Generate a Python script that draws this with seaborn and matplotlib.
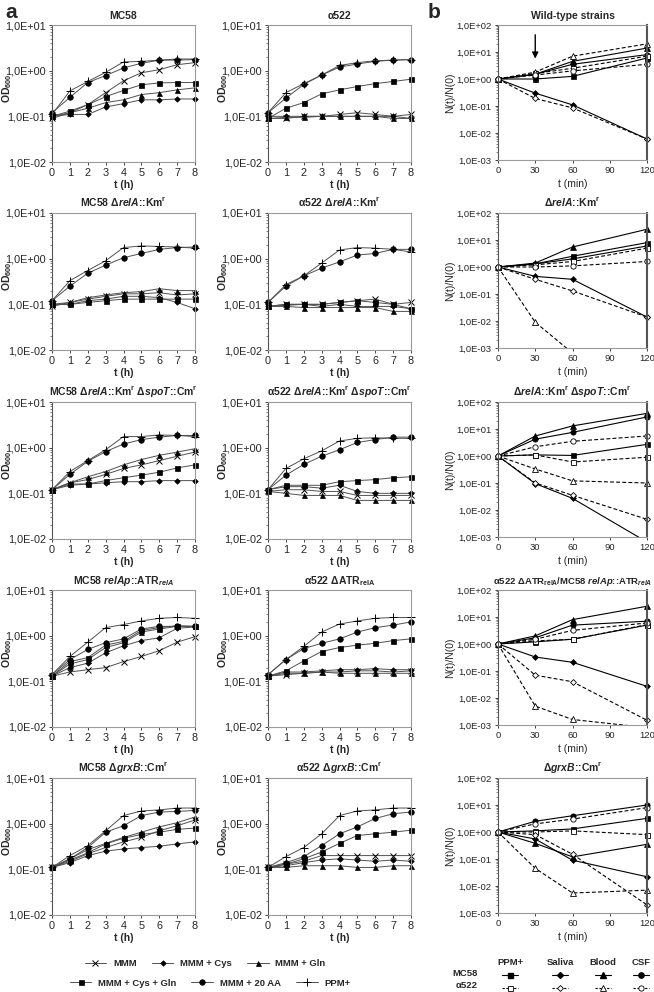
import numpy as np
import matplotlib
matplotlib.use("Agg")
import matplotlib.pyplot as plt
from matplotlib.lines import Line2D
from matplotlib.ticker import FixedLocator, FuncFormatter, LogLocator, NullFormatter
import seaborn as sns

hours = [0, 1, 2, 3, 4, 5, 6, 7, 8]
minutes = [0, 30, 60, 120]

media = ["MMM", "MMM + Cys", "MMM + Gln", "MMM + Cys + Gln", "MMM + 20 AA", "PPM+"]
conditions = ["PPM+", "Saliva", "Blood", "CSF"]

# panel a: OD600 per medium (order of `media`)
od_mc58 = [
    [0.09, 0.12, 0.18, 0.33, 0.60, 0.90, 1.05, 1.35, 1.50],
    [0.10, 0.11, 0.11, 0.16, 0.19, 0.23, 0.23, 0.24, 0.24],
    [0.10, 0.12, 0.15, 0.20, 0.23, 0.30, 0.33, 0.38, 0.42],
    [0.10, 0.13, 0.18, 0.27, 0.37, 0.49, 0.54, 0.55, 0.55],
    [0.12, 0.26, 0.55, 0.78, 1.15, 1.45, 1.70, 1.70, 1.75],
    [0.11, 0.36, 0.58, 0.92, 1.55, 1.60, 1.70, 1.80, 1.80],
]
od_a522 = [
    [0.09, 0.09, 0.10, 0.10, 0.11, 0.12, 0.11, 0.10, 0.11],
    [0.10, 0.10, 0.10, 0.10, 0.10, 0.10, 0.10, 0.10, 0.09],
    [0.09, 0.095, 0.095, 0.10, 0.10, 0.10, 0.10, 0.09, 0.09],
    [0.09, 0.15, 0.20, 0.31, 0.38, 0.45, 0.52, 0.58, 0.65],
    [0.12, 0.25, 0.50, 0.80, 1.20, 1.40, 1.60, 1.70, 1.75],
    [0.12, 0.33, 0.52, 0.80, 1.30, 1.50, 1.65, 1.70, 1.75],
]
od_mc58_rela = [
    [0.09, 0.11, 0.13, 0.15, 0.17, 0.17, 0.18, 0.16, 0.17],
    [0.10, 0.10, 0.12, 0.13, 0.15, 0.15, 0.14, 0.11, 0.08],
    [0.10, 0.11, 0.14, 0.16, 0.18, 0.19, 0.22, 0.20, 0.20],
    [0.10, 0.10, 0.11, 0.12, 0.13, 0.13, 0.13, 0.13, 0.13],
    [0.12, 0.25, 0.48, 0.72, 1.05, 1.30, 1.60, 1.75, 1.80],
    [0.12, 0.33, 0.55, 0.90, 1.75, 1.90, 1.85, 1.80, 1.70],
]
od_a522_rela = [
    [0.09, 0.10, 0.10, 0.10, 0.11, 0.12, 0.13, 0.10, 0.11],
    [0.09, 0.095, 0.10, 0.09, 0.10, 0.09, 0.09, 0.09, 0.08],
    [0.09, 0.09, 0.085, 0.085, 0.085, 0.085, 0.085, 0.07, 0.07],
    [0.09, 0.10, 0.10, 0.10, 0.11, 0.12, 0.11, 0.10, 0.08],
    [0.11, 0.25, 0.42, 0.62, 0.85, 1.20, 1.30, 1.60, 1.60],
    [0.11, 0.27, 0.42, 0.80, 1.55, 1.75, 1.70, 1.60, 1.40],
]
od_mc58_rela_spot = [
    [0.12, 0.17, 0.20, 0.26, 0.35, 0.42, 0.52, 0.65, 0.80],
    [0.12, 0.15, 0.16, 0.17, 0.18, 0.18, 0.19, 0.19, 0.19],
    [0.12, 0.17, 0.23, 0.30, 0.42, 0.55, 0.68, 0.80, 0.95],
    [0.12, 0.16, 0.16, 0.19, 0.22, 0.25, 0.29, 0.36, 0.42],
    [0.12, 0.26, 0.50, 0.82, 1.20, 1.50, 1.70, 1.85, 1.85],
    [0.12, 0.30, 0.52, 0.90, 1.75, 1.75, 1.90, 1.85, 1.75],
]
od_a522_rela_spot = [
    [0.11, 0.12, 0.12, 0.11, 0.11, 0.09, 0.09, 0.09, 0.09],
    [0.12, 0.14, 0.14, 0.13, 0.15, 0.11, 0.10, 0.10, 0.10],
    [0.11, 0.10, 0.09, 0.09, 0.09, 0.07, 0.07, 0.07, 0.07],
    [0.12, 0.15, 0.15, 0.15, 0.18, 0.19, 0.20, 0.22, 0.23],
    [0.12, 0.25, 0.43, 0.65, 0.90, 1.30, 1.50, 1.70, 1.70],
    [0.12, 0.35, 0.57, 0.85, 1.40, 1.60, 1.65, 1.60, 1.60],
]
od_mc58_atr = [
    [0.13, 0.16, 0.18, 0.20, 0.27, 0.35, 0.47, 0.72, 0.95],
    [0.13, 0.20, 0.25, 0.42, 0.60, 0.78, 0.90, 1.45, 1.55],
    [0.13, 0.24, 0.30, 0.55, 0.70, 1.20, 1.40, 1.60, 1.60],
    [0.13, 0.27, 0.33, 0.62, 0.75, 1.30, 1.50, 1.65, 1.60],
    [0.14, 0.30, 0.50, 0.70, 0.85, 1.40, 1.60, 1.60, 1.60],
    [0.14, 0.35, 0.72, 1.50, 1.75, 2.10, 2.40, 2.50, 2.40],
]
od_a522_atr = [
    [0.13, 0.14, 0.15, 0.16, 0.16, 0.17, 0.17, 0.16, 0.17],
    [0.13, 0.16, 0.16, 0.17, 0.18, 0.18, 0.19, 0.18, 0.18],
    [0.13, 0.15, 0.15, 0.16, 0.15, 0.15, 0.15, 0.15, 0.15],
    [0.13, 0.17, 0.28, 0.45, 0.55, 0.62, 0.68, 0.78, 0.85],
    [0.14, 0.30, 0.52, 0.68, 0.85, 1.20, 1.50, 1.70, 2.00],
    [0.14, 0.30, 0.58, 1.20, 1.80, 2.10, 2.40, 2.50, 2.50],
]
od_mc58_grxb = [
    [0.11, 0.15, 0.22, 0.30, 0.40, 0.50, 0.70, 0.90, 1.20],
    [0.11, 0.14, 0.20, 0.25, 0.28, 0.30, 0.32, 0.36, 0.40],
    [0.11, 0.17, 0.27, 0.37, 0.50, 0.65, 0.85, 1.05, 1.40],
    [0.11, 0.16, 0.23, 0.36, 0.48, 0.58, 0.65, 0.75, 0.80],
    [0.11, 0.17, 0.30, 0.65, 0.90, 1.50, 1.80, 1.85, 1.95],
    [0.11, 0.20, 0.33, 0.70, 1.50, 1.90, 2.00, 2.20, 2.20],
]
od_a522_grxb = [
    [0.11, 0.13, 0.15, 0.20, 0.20, 0.20, 0.20, 0.20, 0.20],
    [0.11, 0.12, 0.14, 0.16, 0.17, 0.16, 0.15, 0.16, 0.15],
    [0.11, 0.11, 0.12, 0.12, 0.12, 0.11, 0.11, 0.12, 0.12],
    [0.11, 0.13, 0.17, 0.24, 0.37, 0.55, 0.60, 0.65, 0.72],
    [0.11, 0.14, 0.19, 0.33, 0.60, 0.85, 1.30, 1.65, 1.80],
    [0.11, 0.19, 0.30, 0.60, 1.50, 1.90, 2.00, 2.20, 2.20],
]

# panel b: N(t)/N(0) per condition (order of `conditions`)
surv_wt_mc58 = [[1, 1.0, 1.25, 6], [1, 0.30, 0.11, 0.006], [1, 1.5, 4.5, 14], [1, 1.5, 3.5, 8]]
surv_wt_a522 = [[1, 1.6, 2.5, 7], [1, 0.19, 0.085, 0.006], [1, 1.8, 7, 20], [1, 1.4, 2.0, 3.5]]
surv_rela_mc58 = [[1, 1.3, 2.5, 8], [1, 0.45, 0.35, 0.014], [1, 1.4, 5.5, 25], [1, 1.3, 2.0, 6]]
surv_rela_a522 = [[1, 1.2, 1.6, 5], [1, 0.35, 0.13, 0.014], [1, 0.009, 0.00065, np.nan], [1, 1.0, 1.1, 1.6]]
surv_spot_mc58 = [[1, 1.1, 1.05, 2.7], [1, 0.095, 0.027, 0.00065], [1, 5.5, 13, 38], [1, 4.2, 7.5, 28]]
surv_spot_a522 = [[1, 1.1, 0.6, 0.9], [1, 0.10, 0.035, 0.0045], [1, 0.33, 0.12, 0.10], [1, 2.2, 3.5, 5.5]]
surv_atr_mc58 = [[1, 1.2, 1.5, 5], [1, 0.33, 0.21, 0.027], [1, 2.0, 8, 25], [1, 1.7, 5, 7]]
surv_atr_a522 = [[1, 1.3, 1.5, 5.2], [1, 0.07, 0.04, 0.0015], [1, 0.005, 0.0016, 0.0008], [1, 1.5, 3.2, 6]]
surv_grxb_mc58 = [[1, 1.1, 1.3, 3.2], [1, 0.55, 0.09, 0.022], [1, 0.38, 0.12, 0.35], [1, 2.5, 4.0, 10]]
surv_grxb_a522 = [[1, 1.0, 1.1, 0.8], [1, 0.8, 0.15, 0.002], [1, 0.045, 0.0055, 0.007], [1, 2.0, 3.0, 8]]

growth_panels = [
    ("MC58", od_mc58), ("\u03b1522", od_a522),
    ("MC58 \u0394$\\mathit{relA}$::Km$^{\\mathrm{r}}$", od_mc58_rela),
    ("\u03b1522 \u0394$\\mathit{relA}$::Km$^{\\mathrm{r}}$", od_a522_rela),
    ("MC58 \u0394$\\mathit{relA}$::Km$^{\\mathrm{r}}$ \u0394$\\mathit{spoT}$::Cm$^{\\mathrm{r}}$", od_mc58_rela_spot),
    ("\u03b1522 \u0394$\\mathit{relA}$::Km$^{\\mathrm{r}}$ \u0394$\\mathit{spoT}$::Cm$^{\\mathrm{r}}$", od_a522_rela_spot),
    ("MC58 $\\mathit{relAp}$::ATR$_{\\mathit{relA}}$", od_mc58_atr),
    ("\u03b1522 \u0394ATR$_{\\mathrm{relA}}$", od_a522_atr),
    ("MC58 \u0394$\\mathit{grxB}$::Cm$^{\\mathrm{r}}$", od_mc58_grxb),
    ("\u03b1522 \u0394$\\mathit{grxB}$::Cm$^{\\mathrm{r}}$", od_a522_grxb),
]
survival_panels = [
    ("Wild-type strains", surv_wt_mc58, surv_wt_a522),
    ("\u0394$\\mathit{relA}$::Km$^{\\mathrm{r}}$", surv_rela_mc58, surv_rela_a522),
    ("\u0394$\\mathit{relA}$::Km$^{\\mathrm{r}}$ \u0394$\\mathit{spoT}$::Cm$^{\\mathrm{r}}$", surv_spot_mc58, surv_spot_a522),
    ("\u03b1522 \u0394ATR$_{\\mathrm{relA}}$/MC58 $\\mathit{relAp}$::ATR$_{\\mathit{relA}}$", surv_atr_mc58, surv_atr_a522),
    ("\u0394$\\mathit{grxB}$::Cm$^{\\mathrm{r}}$", surv_grxb_mc58, surv_grxb_a522),
]

sns.set_style("ticks")
plt.rcParams["font.family"] = ["Liberation Sans", "DejaVu Sans"]
plt.rcParams["mathtext.fontset"] = "custom"
plt.rcParams["mathtext.rm"] = "Liberation Sans:bold"
plt.rcParams["mathtext.it"] = "Liberation Sans:italic:bold"
plt.rcParams["mathtext.bf"] = "Liberation Sans:bold"

medium_style = {
    "MMM": dict(marker="x", markersize=4.5, markeredgewidth=0.7),
    "MMM + Cys": dict(marker="D", markersize=2.8, markeredgewidth=0.5),
    "MMM + Gln": dict(marker="^", markersize=3.6, markeredgewidth=0.5),
    "MMM + Cys + Gln": dict(marker="s", markersize=3.6, markeredgewidth=0.5),
    "MMM + 20 AA": dict(marker="o", markersize=4.0, markeredgewidth=0.5),
    "PPM+": dict(marker="+", markersize=6.0, markeredgewidth=0.7),
}
cond_marker = {"PPM+": ("s", 3.6), "Saliva": ("D", 3.0), "Blood": ("^", 3.8), "CSF": ("o", 3.8)}
line_grey = "#505050"

W, H = 654, 992
fig = plt.figure(figsize=(W / 100, H / 100), dpi=100)


def px_axes(x0, y0, w, h):
    return fig.add_axes([x0 / W, 1 - (y0 + h) / H, w / W, h / H])


def sci(v, pos):
    return f"{v:.1E}".replace(".", ",")


def style_log_axis(ax, ticks, size):
    ax.set_yscale("log")
    ax.set_ylim(ticks[0], ticks[-1])
    ax.yaxis.set_major_locator(FixedLocator(ticks))
    ax.yaxis.set_major_formatter(FuncFormatter(sci))
    ax.yaxis.set_minor_locator(LogLocator(base=10, subs=np.arange(2, 10)))
    ax.yaxis.set_minor_formatter(NullFormatter())
    ax.tick_params(axis="both", which="major", labelsize=size, length=2.5, width=0.6, pad=2)
    ax.tick_params(axis="y", which="minor", length=1.5, width=0.4)
    for s in ax.spines.values():
        s.set_color("#9a9a9a")
        s.set_linewidth(0.8)
    ax.spines["left"].set_color("#555555")


rows_top = [25, 213, 402, 590, 778]
cols_a = [52, 268]

for i, (title, curves) in enumerate(growth_panels):
    r, c = divmod(i, 2)
    ax = px_axes(cols_a[c], rows_top[r], 143, 137)
    for medium, vals in zip(media, curves):
        sns.lineplot(x=hours, y=vals, ax=ax, color=line_grey, linewidth=0.7,
                     markerfacecolor="k", markeredgecolor="k", clip_on=False,
                     **medium_style[medium])
    style_log_axis(ax, [0.01, 0.1, 1, 10], 7.8)
    ax.set_xlim(0, 8)
    ax.set_xticks(hours)
    ax.set_xlabel("t (h)", fontsize=7.5, fontweight="bold", labelpad=1.5)
    ax.set_ylabel("OD$_{600}$", fontsize=7.5, fontweight="bold")
    ax.yaxis.set_label_coords(-0.265, 0.54)
    ax.set_title(title, fontsize=7.5, fontweight="bold", pad=4)

for r, (title, mc58, a522) in enumerate(survival_panels):
    ax = px_axes(498, rows_top[r], 149, 135)
    for cond, vals in zip(conditions, mc58):
        m, ms = cond_marker[cond]
        v = np.array(vals, dtype=float)
        keep = ~np.isnan(v)
        inside = bool(np.all(v[keep] >= 1e-3))
        sns.lineplot(x=np.array(minutes)[keep], y=v[keep], ax=ax, color="k", linewidth=0.8,
                     marker=m, markersize=ms, markerfacecolor="k", markeredgecolor="k",
                     markeredgewidth=0.5, clip_on=not inside)
    for cond, vals in zip(conditions, a522):
        m, ms = cond_marker[cond]
        v = np.array(vals, dtype=float)
        keep = ~np.isnan(v)
        inside = bool(np.all(v[keep] >= 1e-3))
        sns.lineplot(x=np.array(minutes)[keep], y=v[keep], ax=ax, color="k", linewidth=0.8,
                     linestyle=(0, (3.5, 2)), marker=m, markersize=ms, markerfacecolor="white",
                     markeredgecolor="k", markeredgewidth=0.6, clip_on=not inside)
    style_log_axis(ax, [1e-3, 1e-2, 1e-1, 1, 10, 100], 6.8)
    ax.spines["right"].set_color("#555555")
    ax.spines["right"].set_linewidth(1.5)
    ax.set_xlim(0, 120)
    ax.set_xticks([0, 30, 60, 90, 120])
    ax.set_xlabel("t (min)", fontsize=7.5, labelpad=3)
    ax.set_ylabel("N(t)/N(0)", fontsize=7.5)
    ax.yaxis.set_label_coords(-0.285, 0.5)
    ax.set_title(title, fontsize=6.8 if r == 3 else 7.5, fontweight="bold", pad=4)
    if r == 0:
        ax.annotate("", xy=(30, 4.5), xytext=(30, 55),
                    arrowprops=dict(arrowstyle="-|>", color="k", lw=1.0, mutation_scale=9))

fig.text(5 / W, 1 - 18 / H, "a", fontsize=15, fontweight="bold")
fig.text(428 / W, 1 - 18 / H, "b", fontsize=15, fontweight="bold")


def media_handle(medium):
    return Line2D([], [], color=line_grey, linewidth=0.7, markerfacecolor="k",
                  markeredgecolor="k", **medium_style[medium])


leg_kw = dict(frameon=False, ncol=3, handlelength=2.3, handletextpad=0.7, columnspacing=1.6,
              borderpad=0, prop=dict(size=6.8, weight="bold"), loc="center")
fig.legend([media_handle(m) for m in media[:3]], media[:3],
           bbox_to_anchor=(205 / W, 1 - 964 / H), **leg_kw)
fig.legend([media_handle(m) for m in media[3:]], media[3:],
           bbox_to_anchor=(210 / W, 1 - 983 / H), **leg_kw)

col_x = [510, 560, 603, 641]
for cond, x in zip(conditions, col_x):
    m, ms = cond_marker[cond]
    h1 = Line2D([], [], color="k", linewidth=0.8, marker=m, markersize=ms,
                markerfacecolor="k", markeredgecolor="k")
    h2 = Line2D([], [], color="k", linewidth=0.8, linestyle=(0, (2, 1.5)), marker=m,
                markersize=ms, markerfacecolor="white", markeredgecolor="k", markeredgewidth=0.6)
    fig.legend([h1, h2], ["", ""], title=cond, frameon=False, handlelength=1.8,
               handletextpad=0, borderpad=0, labelspacing=0.5, loc="upper center",
               bbox_to_anchor=(x / W, 1 - 953 / H), prop=dict(size=6.5),
               title_fontproperties=dict(size=6.8, weight="bold"))
fig.text(478 / W, 1 - 973 / H, "MC58", fontsize=6.8, fontweight="bold", ha="right", va="center")
fig.text(478 / W, 1 - 985 / H, "\u03b1522", fontsize=6.8, fontweight="bold", ha="right", va="center")

fig.savefig("out.png", dpi=100)
